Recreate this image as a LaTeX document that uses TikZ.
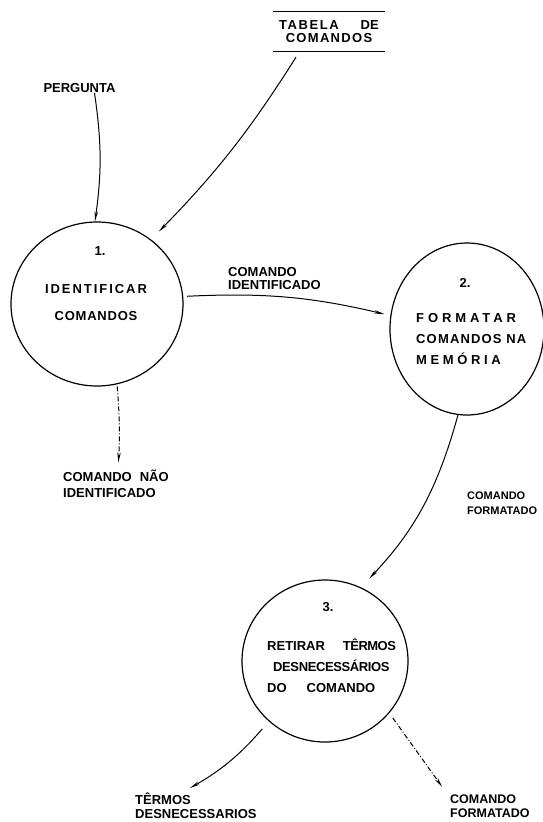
\documentclass[tikz,border=0pt]{standalone}
\usepackage{fontspec}
\setmainfont{Liberation Sans}
\usetikzlibrary{arrows.meta,shapes.geometric}

\newcommand\spaced[2]{{\addfontfeature{LetterSpace=#1}#2}}

\tikzset{
  x=1pt, y=-1pt,
  every node/.style={font=\fontsize{13}{15}\selectfont\bfseries, inner sep=0pt},
  bubble/.style={draw, ellipse, line width=1.2pt},
  lbl/.style={align=left, anchor=north west},
  flow/.style={line width=1pt, -{Stealth[length=10pt,width=3.5pt]}},
  dashflow/.style={flow, dash pattern=on 5pt off 2pt on 1pt off 2pt},
}

\begin{document}
\begin{tikzpicture}
  \useasboundingbox (0,0) rectangle (542,822);

  % processos
  \node[bubble, minimum width=172, minimum height=164] (p1) at (97,304) {};
  \node[bubble, minimum width=154, minimum height=172] (p2) at (467,329) {};
  \node[bubble, minimum width=166, minimum height=162] (p3) at (325,661) {};

  \node (n1) at (100,251) {1.};
  \node[align=center] (t1) at (96,303) {\spaced{15}{IDENTIFICAR}\\[12pt]\spaced{6}{COMANDOS}};
  \node (n2) at (465,283) {2.};
  \node[lbl] (t2) at (416,313) {\spaced{30}{FORMATAR}\\[6pt]\spaced{9}{COMANDOS NA}\\[6pt]\spaced{28}{MEMÓRIA}};
  \node (n3) at (328,607) {3.};
  \node[lbl] (t3) at (267,639) {RETIRAR\hspace{18pt}\spaced{-4}{TÊRMOS}\\[6pt]\hspace*{6pt}\spaced{-3}{DESNECESSÁRIOS}\\[6pt]DO\hspace{20pt}COMANDO};

  % entradas e saidas
  \node (tabela) at (329,31.5) [minimum width=112, minimum height=39, align=center]
    {\spaced{12}{TABELA}\hspace{22pt}DE\\[-2pt]\spaced{10}{COMANDOS}};
  \draw[line width=1.1pt] (tabela.north west) -- (tabela.north east)
    (tabela.south west) -- (tabela.south east);
  \node (pergunta) at (79.5,88) {PERGUNTA};
  \node[lbl] (naoid) at (63,469.5) {COMANDO\hspace{8pt}NÃO\\[1pt]IDENTIFICADO};
  \node[lbl] (cmdid) at (228,267) {COMANDO\\[-2pt]IDENTIFICADO};
  \node[lbl, font=\fontsize{11}{15}\selectfont\bfseries] (cmdfmt) at (467,492) {COMANDO\\FORMATADO};
  \node[lbl] (termos) at (135,792.5) {TÊRMOS\\[-1pt]DESNECESSARIOS};
  \node[lbl, font=\fontsize{12.5}{14}\selectfont\bfseries] (saida) at (450,795) {COMANDO\\FORMATADO};

  % fluxos
  \draw[flow] ([xshift=15pt]pergunta.south) to[bend left=8] ([xshift=-2pt]p1.north);
  \draw[flow, shorten <=7pt, shorten >=11pt] (tabela.214) to[bend left=6] (p1.50);
  \draw[flow, shorten <=4pt, shorten >=6pt] (p1.5) to[bend left=8] (p2.170);
  \draw[dashflow, shorten <=2pt, shorten >=7pt] (p1.-76) to[bend left=4] ([xshift=55pt]naoid.north west);
  \draw[flow, shorten >=12pt] (p2.-96) to[bend left=14] (p3.64);
  \draw[flow, shorten <=10pt, shorten >=9pt] (p3.-133) to[bend left=10] ([xshift=47pt]termos.north west);
  \draw[dashflow, shorten <=6pt, shorten >=10pt] (p3.-39) -- ([xshift=-2pt]saida.north west);
\end{tikzpicture}
\end{document}
